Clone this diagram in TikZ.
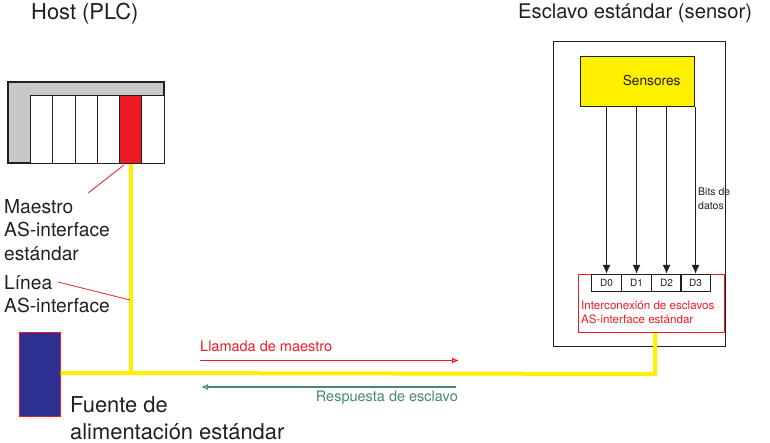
\documentclass[tikz,border=0pt]{standalone}
\usepackage{fontspec}
\usetikzlibrary{arrows.meta}
\setmainfont{TeX Gyre Heros}
\definecolor{busYellow}{RGB}{255,240,0}
\definecolor{plcGray}{RGB}{199,200,202}
\definecolor{plcRed}{RGB}{237,28,36}
\definecolor{psuBlue}{RGB}{46,49,146}
\definecolor{replyGreen}{RGB}{70,135,115}
\definecolor{inkGray}{RGB}{35,31,32}

\begin{document}
\begin{tikzpicture}[x=1pt, y=-1pt, inner sep=0pt, text=inkGray]
  \tikzset{
    every node/.style={align=left},
    bigText/.style={font=\fontsize{19.2}{23.5}\selectfont, anchor=north west},
    largeText/.style={font=\fontsize{21.9}{27}\selectfont, anchor=north west},
    flowText/.style={font=\fontsize{14.5}{17}\selectfont},
    smallText/.style={font=\fontsize{11.6}{14}\selectfont, anchor=north west},
    tinyText/.style={font=\fontsize{10.5}{14}\selectfont, anchor=north west},
    frameBox/.style={draw=inkGray, line width=1.4pt},
    slotBox/.style={draw=inkGray, line width=1.4pt, fill=white, anchor=north west, minimum height=68pt},
    bitBox/.style={draw=inkGray, line width=1.1pt, anchor=north west, minimum width=30pt, minimum height=17pt, font=\fontsize{10}{10}\selectfont},
    busLine/.style={draw=busYellow, line width=4pt},
    leaderLine/.style={draw=plcRed, line width=0.8pt},
    bitArrow/.style={draw=inkGray, line width=1.6pt, -{Latex[length=9pt,width=8pt]}},
    flowArrow/.style={line width=1.2pt, -{Latex[open,length=7pt,width=6pt]}}
  }
  \useasboundingbox (0,0) rectangle (770,443);

  \node (plcTitle) [largeText] at (31,3) {Host (PLC)};
  \node (slaveTitle) [font=\fontsize{20.2}{24}\selectfont, anchor=north west] at (518,4) {Esclavo estándar (sensor)};

  \path[fill=plcGray, draw=inkGray, line width=1.5pt] (8,82) rectangle (164,163);
  \node (slotA) [slotBox, minimum width=22pt] at (30,95) {};
  \node (slotB) [slotBox, minimum width=23pt] at (52,95) {};
  \node (slotC) [slotBox, minimum width=22pt] at (75,95) {};
  \node (slotD) [slotBox, minimum width=22pt] at (97,95) {};
  \node (slotMaster) [slotBox, fill=plcRed, minimum width=22pt] at (119,95) {};
  \node (slotF) [slotBox, minimum width=23pt] at (141,95) {};

  \node (slaveFrame) [frameBox, anchor=north west, minimum width=172pt, minimum height=305pt] at (553,41) {};
  \node (sensorBox) [frameBox, fill=busYellow, anchor=north west, minimum width=114pt, minimum height=50pt, font=\fontsize{13.7}{15}\selectfont] at (580,56) {\hspace*{28pt}\raisebox{2pt}{Sensores}};
  \node (slaveBox) [draw=plcRed, line width=1.1pt, anchor=north west, minimum width=146pt, minimum height=58pt] at (578,274) {};
  \node (bitZero) [bitBox] at (591,274) {D0};
  \node (bitOne) [bitBox] at (621,274) {D1};
  \node (bitTwo) [bitBox] at (651,274) {D2};
  \node (bitThree) [bitBox] at (680,274) {D3};
  \node (bitsLabel) [tinyText] at (698,188) {Bits de\\datos};
  \node (slaveLabel) [smallText, text=plcRed] at (581,301) {Interconexión de esclavos\\AS-interface estándar};

  \foreach \bitName in {bitZero, bitOne, bitTwo, bitThree}
    \draw[bitArrow] (sensorBox.south -| \bitName.north) -- (\bitName.north);

  \node (psuBox) [draw=plcRed, fill=psuBlue, line width=1pt, anchor=north west, minimum width=41pt, minimum height=84pt] at (18.5,332) {};
  \coordinate (busTee) at (130,373);
  \coordinate (busCorner) at (655,374);
  \draw[busLine] (slotMaster.south) -- (slotMaster.south |- busTee);
  \draw[busLine] (psuBox.east |- busTee) -- (busTee) -- (busCorner) -- (slaveBox.south -| busCorner);

  \node (masterLabel) [bigText] at (4,199) {Maestro\\AS-interface\\estándar};
  \node (lineLabel) [bigText] at (4,275) {Línea\\AS-interface};
  \node (psuLabel) [largeText] at (70,396) {Fuente de\\alimentación estándar};
  \coordinate (masterStart) at (124,165);
  \coordinate (masterEnd) at (88,193);
  \coordinate (lineStart) at (58,282);
  \coordinate (lineEnd) at (130,300);
  \draw[leaderLine] (masterStart) -- (masterEnd);
  \draw[leaderLine] (lineStart) -- (lineEnd);

  \node (callLabel) [anchor=north west, flowText, text=plcRed] at (200,341) {Llamada de maestro};
  \node (replyLabel) [anchor=north east, flowText, text=replyGreen] at (458,391) {Respuesta de esclavo};
  \coordinate (callStart) at (200,360.5);
  \coordinate (callEnd) at (459,360.5);
  \coordinate (replyStart) at (456,387);
  \coordinate (replyEnd) at (201,387);
  \draw[flowArrow, draw=plcRed] (callStart) -- (callEnd);
  \draw[flowArrow, draw=replyGreen] (replyStart) -- (replyEnd);
\end{tikzpicture}
\end{document}
